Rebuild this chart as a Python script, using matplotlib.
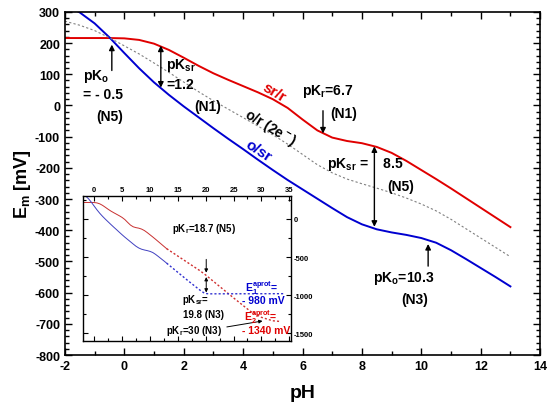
import matplotlib.pyplot as plt
from matplotlib.ticker import MultipleLocator

plt.rcParams['font.family'] = ['Liberation Sans', 'DejaVu Sans']
plt.rcParams['font.weight'] = 'bold'
plt.rcParams['axes.labelweight'] = 'bold'
plt.rcParams['axes.unicode_minus'] = False
plt.rcParams['mathtext.fontset'] = 'custom'
plt.rcParams['mathtext.rm'] = 'Liberation Sans:bold'
plt.rcParams['mathtext.it'] = 'Liberation Sans:bold'
plt.rcParams['mathtext.bf'] = 'Liberation Sans:bold'
plt.rcParams['mathtext.default'] = 'rm'

# midpoint potentials (mV) vs pH
ph = [-2, -1.5, -1, -0.5, 0, 0.5, 1, 1.5, 2, 2.5, 3, 3.5, 4, 4.5, 5, 5.5, 6,
      6.5, 7, 7.5, 8, 8.5, 9, 9.5, 10, 10.5, 11, 11.5, 12, 12.5, 13]
e_sr_r = [216, 216, 216, 216, 215, 210, 198, 178, 153, 127, 103, 82, 62, 42, 20,
          -8, -45, -80, -103, -114, -121, -133, -152, -178, -207, -236, -266,
          -297, -328, -359, -390]
e_o_sr = [325, 298, 263, 218, 168, 119, 74, 34, -3, -38, -73, -107, -140, -174,
          -207, -239, -269, -299, -329, -358, -381, -397, -407, -415, -425, -440,
          -464, -492, -521, -550, -580]
e_o_r = [270, 257, 240, 217, 191, 165, 136, 106, 75, 44, 15, -12, -39, -66, -94,
         -124, -157, -190, -216, -236, -251, -265, -280, -297, -316, -338, -365,
         -395, -425, -455, -485]

# inset: extrapolation to the aprotic limit
ph_ext_r = [13, 16, 19, 20, 22, 25, 28, 30, 32, 33.5]
e_ext_r = [-390, -535, -680, -735, -855, -1035, -1210, -1290, -1335, -1345]
ph_ext_o = [13, 15, 17, 19, 19.8, 20.5, 34]
e_ext_o = [-580, -700, -820, -935, -975, -982, -980]

red = '#e00000'
blue = '#0000d0'

fig = plt.figure(figsize=(5.5, 4.14), dpi=100)
ax = fig.add_axes([0.118, 0.140, 0.864, 0.829])

ax.plot(ph, e_sr_r, color=red, lw=1.4)
ax.plot(ph, e_o_sr, color=blue, lw=1.4)
ax.plot(ph, e_o_r, color='gray', lw=0.8, ls=(0, (2, 2)))

ax.set_xlim(-2, 14)
ax.set_ylim(-800, 300)
ax.xaxis.set_major_locator(MultipleLocator(2))
ax.xaxis.set_minor_locator(MultipleLocator(1))
ax.yaxis.set_major_locator(MultipleLocator(100))
ax.yaxis.set_minor_locator(MultipleLocator(20))
ax.tick_params(which='both', direction='in', top=True, right=True, labelsize=9, width=1)
ax.tick_params(which='major', length=5)
ax.tick_params(which='minor', length=3)
for lab in ax.get_xticklabels() + ax.get_yticklabels():
    lab.set_fontweight('bold')
for s in ax.spines.values():
    s.set_linewidth(1.2)
ax.set_xlabel('pH', fontsize=14, labelpad=9)
ax.set_ylabel('E$_m$ [mV]', fontsize=13, labelpad=1)

# annotations
fs = 10
arr = dict(arrowstyle='-|>', color='black', lw=1, mutation_scale=8, shrinkA=0, shrinkB=0)
arr2 = dict(arrowstyle='<|-|>', color='black', lw=1, mutation_scale=8, shrinkA=0, shrinkB=0)

ax.text(-1.4, 95, 'pK$_o$', fontsize=fs, va='center')
ax.text(-1.4, 37, '= - 0.5', fontsize=fs, va='center')
ax.text(-0.48, -33, '(N5)', fontsize=fs, va='center', ha='center')
ax.annotate('', xy=(-0.42, 195), xytext=(-0.42, 112), arrowprops=arr)

ax.text(1.4, 130, 'pK$_{sr}$', fontsize=fs, va='center')
ax.text(1.4, 69, '=1.2', fontsize=fs, va='center')
ax.text(2.8, -1, '(N1)', fontsize=fs, va='center', ha='center')
ax.annotate('', xy=(1.23, 192), xytext=(1.23, 57), arrowprops=arr2)

ax.text(5.05, 45, 'sr/r', fontsize=11, color=red, rotation=-31, ha='center', va='center')
ax.text(4.9, -68, 'o/r (2e$^-$)', fontsize=10, rotation=-31, ha='center', va='center')
ax.text(4.5, -144, 'o/sr', fontsize=11, color=blue, rotation=-33, ha='center', va='center')

ax.text(5.98, 47, 'pK$_r$=6.7', fontsize=fs, va='center')
ax.text(7.4, -24, '(N1)', fontsize=fs, va='center', ha='center')
ax.annotate('', xy=(6.69, -90), xytext=(6.69, -17), arrowprops=arr)

ax.text(6.82, -187, 'pK$_{sr}$ =    8.5', fontsize=fs, va='center')
ax.text(9.32, -258, '(N5)', fontsize=fs, va='center', ha='center')
ax.annotate('', xy=(8.42, -131), xytext=(8.42, -389), arrowprops=arr2)

ax.text(8.37, -550, 'pK$_o$=10.3', fontsize=fs, va='center')
ax.text(9.79, -620, '(N3)', fontsize=fs, va='center', ha='center')
ax.annotate('', xy=(10.23, -444), xytext=(10.23, -515), arrowprops=arr)

# inset
ins = fig.add_axes([0.151, 0.174, 0.378, 0.350])
ins.plot(ph, e_sr_r, color='#c83030', lw=0.7)
ins.plot(ph, e_o_sr, color='#4040c0', lw=0.7)
ins.plot(ph_ext_r, e_ext_r, color='#d03030', lw=1, ls=(0, (1.5, 1.5)))
ins.plot(ph_ext_o, e_ext_o, color='#3030d0', lw=1, ls=(0, (1.5, 1.5)))
ins.set_xlim(-2, 35.3)
ins.set_ylim(-1600, 300)
ins.xaxis.set_major_locator(MultipleLocator(5))
ins.xaxis.set_minor_locator(MultipleLocator(2.5))
ins.yaxis.set_major_locator(MultipleLocator(500))
ins.yaxis.set_minor_locator(MultipleLocator(250))
ins.tick_params(which='both', direction='in', top=True, right=True, bottom=True, left=True,
                labeltop=True, labelbottom=False, labelright=True, labelleft=False,
                labelsize=5.5, width=0.8, pad=2)
ins.tick_params(which='major', length=3.5)
ins.tick_params(which='minor', length=2)
for lab in ins.get_xticklabels() + ins.get_yticklabels():
    lab.set_fontweight('bold')
for s in ins.spines.values():
    s.set_linewidth(1)

ifs = 7
small = dict(arrowstyle='-|>', color='black', lw=0.7, mutation_scale=5, shrinkA=0, shrinkB=0)
small2 = dict(arrowstyle='<|-|>', color='black', lw=0.7, mutation_scale=5, shrinkA=0, shrinkB=0)
ins.text(19.7, -120, 'pK$_r$=18.7 (N5)', fontsize=ifs, ha='center', va='center')
ins.annotate('', xy=(20.1, -705), xytext=(20.1, -530), arrowprops=small)
ins.annotate('', xy=(20.1, -762), xytext=(20.1, -965), arrowprops=small2)
ins.text(15.8, -1052, 'pK$_{sr}$=', fontsize=ifs, va='center')
ins.text(16.0, -1247, '19.8 (N3)', fontsize=ifs, va='center')
ins.text(12.8, -1455, 'pK$_r$=30 (N3)', fontsize=ifs, va='center')
ins.annotate('', xy=(30.2, -1338), xytext=(23.8, -1416), arrowprops=small)
ins.text(27.0, -896, 'E$_1^{aprot}$=', fontsize=7.5, color=blue, va='center')
ins.text(26.6, -1065, '- 980 mV', fontsize=7.5, color=blue, va='center')
ins.text(26.9, -1273, 'E$_2^{aprot}$=', fontsize=7.5, color=red, va='center')
ins.text(26.6, -1455, '- 1340 mV', fontsize=7.5, color=red, va='center')

plt.savefig('out.png', dpi=100)
